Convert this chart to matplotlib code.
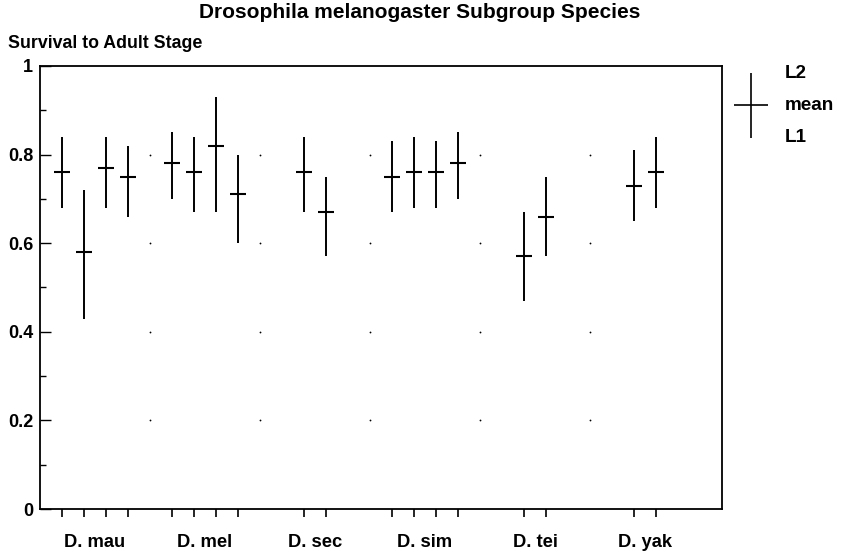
import matplotlib.pyplot as plt
import numpy as np

plt.rcParams['font.family'] = ['Liberation Sans', 'DejaVu Sans']

# Species groups and the slot each strain sits in along the x axis
SPECIES = ['D. mau', 'D. mel', 'D. sec', 'D. sim', 'D. tei', 'D. yak']
SPECIES_CENTER = [2.5, 7.5, 12.5, 17.5, 22.5, 27.5]
STRAIN_POS = [1, 2, 3, 4, 6, 7, 8, 9, 12, 13, 16, 17, 18, 19, 22, 23, 27, 28]

# Survival to adult stage: mean with upper (L2) and lower (L1) limits
MEAN = [0.76, 0.58, 0.77, 0.75, 0.78, 0.76, 0.82, 0.71, 0.76, 0.67,
        0.75, 0.76, 0.76, 0.78, 0.57, 0.66, 0.73, 0.76]
L2 = [0.84, 0.72, 0.84, 0.82, 0.85, 0.84, 0.93, 0.80, 0.84, 0.75,
      0.83, 0.84, 0.83, 0.85, 0.67, 0.75, 0.81, 0.84]
L1 = [0.68, 0.43, 0.68, 0.66, 0.70, 0.67, 0.67, 0.60, 0.67, 0.57,
      0.67, 0.68, 0.68, 0.70, 0.47, 0.57, 0.65, 0.68]

GRID_X = [5, 10, 15, 20, 25]
GRID_Y = [0.2, 0.4, 0.6, 0.8]

fig = plt.figure(figsize=(8.41, 5.53), dpi=100)
W, H = 841, 553
ax = fig.add_axes([40 / W, 1 - 509 / H, (722 - 40) / W, (509 - 66) / H])

mean = np.array(MEAN)
yerr = [mean - np.array(L1), np.array(L2) - mean]
ax.errorbar(STRAIN_POS, mean, yerr=yerr, fmt='_', color='black',
            markersize=12, markeredgewidth=1.5, elinewidth=1.4, capsize=0)

# dotted grid intersections
gx, gy = np.meshgrid(GRID_X, GRID_Y)
ax.plot(gx.ravel(), gy.ravel(), 'o', color='black', markersize=1.3,
        markeredgewidth=0)

ax.set_xlim(0, 31)
ax.set_ylim(0, 1)

ax.set_xticks(STRAIN_POS)
ax.set_xticklabels([])
ax.set_xticks(SPECIES_CENTER, minor=True)
ax.set_xticklabels(SPECIES, minor=True, fontsize=13.2, fontweight='bold')
ax.tick_params(axis='x', which='major', direction='out', length=6,
               width=1.2, top=False)
ax.tick_params(axis='x', which='minor', length=0, pad=18)

ax.set_yticks([0, 0.2, 0.4, 0.6, 0.8, 1])
ax.set_yticklabels(['0', '0.2', '0.4', '0.6', '0.8', '1'],
                   fontsize=13, fontweight='bold')
ax.set_yticks(np.arange(0.1, 1.0, 0.2), minor=True)
ax.tick_params(axis='y', which='major', direction='in', length=8,
               width=1.0, pad=5, right=False)
ax.tick_params(axis='y', which='minor', direction='in', length=4,
               width=1.0, right=False)

for side in ['left', 'bottom', 'top', 'right']:
    ax.spines[side].set_linewidth(1.3)

fig.text(420 / W, 1 - 12 / H, 'Drosophila melanogaster Subgroup Species',
         ha='center', va='center', fontsize=15, fontweight='bold')
fig.text(8 / W, 1 - 44 / H, 'Survival to Adult Stage',
         ha='left', va='center', fontsize=12.8, fontweight='bold')

# legend key: a single cross with its labels
lax = fig.add_axes([733 / W, 1 - 138 / H, 35 / W, 65 / H])
lax.errorbar([0.5], [0.5], yerr=[[0.5], [0.5]], fmt='_', color='black',
             markersize=25, markeredgewidth=1.2, elinewidth=1.2, capsize=0)
lax.set_xlim(0, 1)
lax.set_ylim(0, 1)
lax.axis('off')
fig.text(785 / W, 1 - 74 / H, 'L2', ha='left', va='center',
         fontsize=13.6, fontweight='bold')
fig.text(785 / W, 1 - 105 / H, 'mean', ha='left', va='center',
         fontsize=13.6, fontweight='bold')
fig.text(785 / W, 1 - 137 / H, 'L1', ha='left', va='center',
         fontsize=13.6, fontweight='bold')

fig.savefig('out.png', dpi=100)
